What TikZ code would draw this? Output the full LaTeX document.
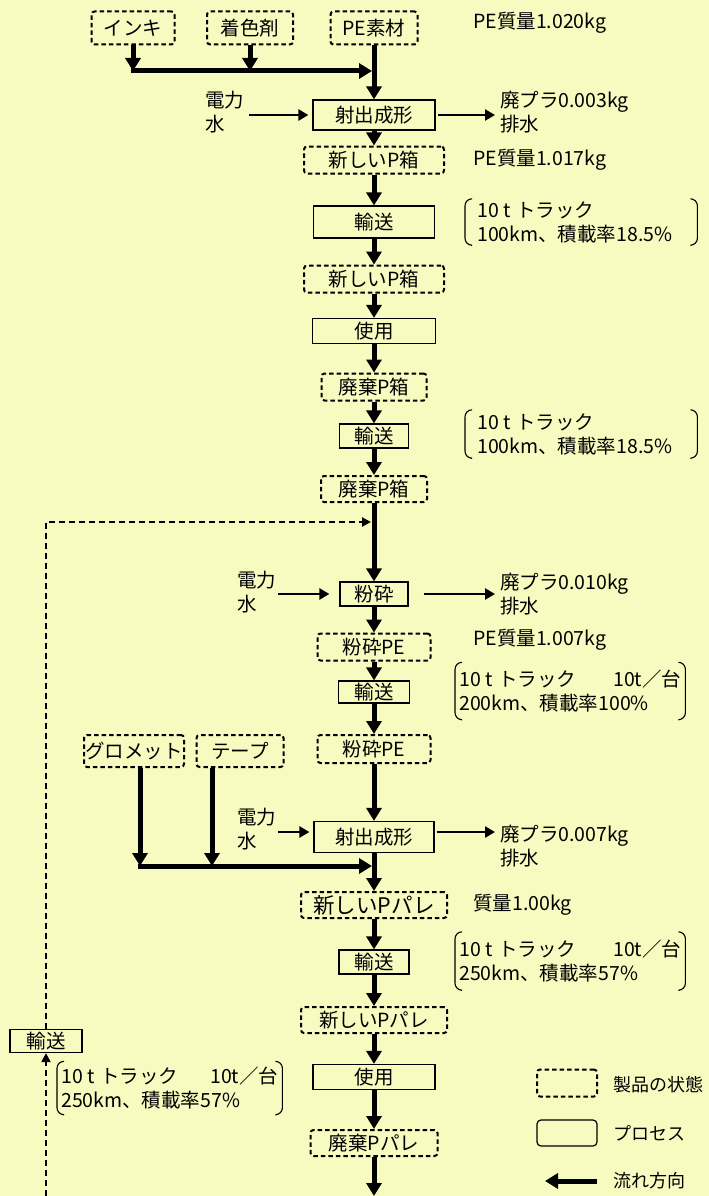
\documentclass[tikz,border=0pt]{standalone}
\usepackage{fontspec}
\setmainfont{Noto Sans CJK JP}
\usetikzlibrary{positioning, arrows.meta, calc}
\definecolor{bgyellow}{RGB}{247,251,192}
\newcommand{\jfont}{\fontsize{19.5}{24}\selectfont}
\newcommand{\bigjfont}{\fontsize{21.5}{24}\selectfont}
\newcommand{\legfont}{\fontsize{18}{24}\selectfont}
\newcommand{\truck}{10\kern5pt t\kern5pt トラック}
\tikzset{
  st/.style    = {draw, dash pattern=on 4.5pt off 3pt, line width=2pt,
                  rounded corners=3pt, inner sep=1pt, font=\jfont},
  pr/.style    = {draw, line width=1.2pt, inner sep=1pt, font=\jfont},
  txt/.style   = {align=left, anchor=west, inner sep=0pt, font=\jfont},
  note/.style  = {align=left, anchor=west, inner ysep=2pt, font=\jfont},
  flow/.style  = {-{Triangle[width=15pt,length=13pt]}, line width=5pt},
  thin/.style  = {-{Triangle[width=11pt,length=10pt]}, line width=2.5pt},
  fback/.style = {-{Triangle[width=9pt,length=9pt]}, line width=2pt,
                  dash pattern=on 6pt off 4pt},
  brk/.style   = {line width=1.1pt, rounded corners=7pt},
}
% brackets round a note
\newcommand{\brackets}[1]{%
  \draw[brk] ([xshift=6pt]#1.north west) -- (#1.north west)
    -- (#1.south west) -- ([xshift=6pt]#1.south west);
  \draw[brk] ([xshift=-6pt]#1.north east) -- (#1.north east)
    -- (#1.south east) -- ([xshift=-6pt]#1.south east);}

\begin{document}
\begin{tikzpicture}[x=1pt, y=-1pt]
  \fill[bgyellow] (0,0) rectangle (709,1196);
  \useasboundingbox (0,0) rectangle (709,1196);

  % raw materials
  \node[st, minimum width=83pt, minimum height=33pt] (ink) at (133,28) {インキ};
  \node[st, minimum width=86pt, minimum height=33pt] (col) at (250,28) {着色剤};
  \node[st, minimum width=87pt, minimum height=33pt] (pe)  at (374,28) {PE素材};
  \node[txt] (mass0) at (473,23) {PE質量1.020kg};
  \coordinate (m1) at (372,71);
  \draw[flow] (ink.south) -- (ink.south |- m1);
  \draw[flow] (col.south) -- (col.south |- m1);
  \draw[flow] ([xshift=-2.5pt]ink.south |- m1) -- (m1);

  % molding of the box
  \node[pr, minimum width=122pt, minimum height=30pt] (inj1) at (374,115) {射出成形};
  \draw[flow] (pe.south) -- (inj1.north);
  \node[txt] (pw1) at (205,112) {電力\\水};
  \node[txt] (waste1) at (500,112) {廃プラ0.003kg\\排水};
  \draw[thin] ([xshift=5pt]pw1.east |- inj1) -- ([xshift=-4pt]inj1.west);
  \draw[thin] ([xshift=2pt]inj1.east) -- ([xshift=-5pt]waste1.west |- inj1);

  \node[st, minimum width=140pt, minimum height=27pt] (nbox1) at (374,160) {新しいP箱};
  \node[txt] (mass1) at (473,160) {PE質量1.017kg};
  \draw[flow] (inj1.south) -- (nbox1.north);

  \node[pr, minimum width=121pt, minimum height=32pt] (tr1) at (374,222) {輸送};
  \node[note, text width=208pt, inner xsep=12pt, minimum height=46pt] (note1) at (465,222)
    {\truck\\100km、積載率18.5\%};
  \brackets{note1}
  \draw[flow] (nbox1.south) -- (tr1.north);

  \node[st, minimum width=140pt, minimum height=27pt] (nbox2) at (374,279) {新しいP箱};
  \draw[flow] (tr1.south) -- (nbox2.north);
  \node[pr, minimum width=123pt, minimum height=25pt] (use1) at (374,331) {使用};
  \draw[flow] (nbox2.south) -- (use1.north);
  \node[st, minimum width=105pt, minimum height=27pt] (wbox1) at (374,387) {廃棄P箱};
  \draw[flow] (use1.south) -- (wbox1.north);
  \node[pr, minimum width=69pt, minimum height=24pt] (tr2) at (374,436) {輸送};
  \draw[flow] (wbox1.south) -- (tr2.north);
  \node[note, text width=208pt, inner xsep=12pt, minimum height=48pt] (note2) at (465,434)
    {\truck\\100km、積載率18.5\%};
  \brackets{note2}
  \node[st, minimum width=106pt, minimum height=26pt] (wbox2) at (374,489) {廃棄P箱};
  \draw[flow] (tr2.south) -- (wbox2.north);

  % crushing
  \node[pr, minimum width=68pt, minimum height=24pt] (crush) at (374,594) {粉砕};
  \draw[flow] (wbox2.south) -- (crush.north);
  \node[txt] (pw2) at (237,592) {電力\\水};
  \node[txt] (waste2) at (500,594) {廃プラ0.010kg\\排水};
  \draw[thin] ([xshift=2pt]pw2.east |- crush) -- ([xshift=-10pt]crush.west);
  \draw[thin] ([xshift=15pt]crush.east) -- ([xshift=-5pt]waste2.west |- crush);

  \node[st, minimum width=113pt, minimum height=27pt] (cpe1) at (374,647) {粉砕PE};
  \node[txt] (mass2) at (473,640) {PE質量1.007kg};
  \draw[flow] (crush.south) -- (cpe1.north);
  \node[pr, minimum width=71pt, minimum height=22pt] (tr3) at (374,692) {輸送};
  \draw[flow] (cpe1.south) -- (tr3.north);
  \node[note, text width=222pt, inner xsep=4pt, minimum height=57pt] (note3) at (455,691)
    {\truck\hfill10t／台\\200km、積載率100\%};
  \brackets{note3}
  \node[st, minimum width=113pt, minimum height=28pt] (cpe2) at (374,749) {粉砕PE};
  \draw[flow] (tr3.south) -- (cpe2.north);

  % molding of the pallet
  \node[st, minimum width=100pt, minimum height=32pt] (grom) at (134,751) {グロメット};
  \node[st, minimum width=87pt, minimum height=32pt] (tape) at (240,751) {テープ};
  \node[pr, minimum width=120pt, minimum height=31pt] (inj2) at (374,837) {射出成形};
  \draw[flow] (cpe2.south) -- (inj2.north);
  \coordinate (m2) at (372,866);
  \draw[flow] ([xshift=6pt]grom.south) -- ([xshift=6pt]grom.south |- m2);
  \draw[flow] ([xshift=-28pt]tape.south) -- ([xshift=-28pt]tape.south |- m2);
  \draw[flow] ([xshift=3.5pt]grom.south |- m2) -- (m2);
  \node[txt] (pw3) at (237,829) {電力\\水};
  \node[txt] (waste3) at (500,846) {廃プラ0.007kg\\排水};
  \draw[thin] ([xshift=2pt]pw3.east |- inj2) ++(0,-5) -- ([xshift=-4pt,yshift=5pt]inj2.west);
  \draw[thin] ([xshift=2pt,yshift=5pt]inj2.east) -- ([xshift=-5pt,yshift=5pt]waste3.west |- inj2);

  \node[st, font=\bigjfont, minimum width=146pt, minimum height=26pt] (npal1) at (374,905) {新しいPパレ};
  \node[txt] (mass3) at (473,905) {質量1.00kg};
  \draw[flow] (inj2.south) -- (npal1.north);
  \node[pr, minimum width=70pt, minimum height=24pt] (tr4) at (374,962) {輸送};
  \draw[flow] (npal1.south) -- (tr4.north);
  \node[note, text width=222pt, inner xsep=4pt, minimum height=58pt] (note4) at (455,961)
    {\truck\hfill10t／台\\250km、積載率57\%};
  \brackets{note4}
  \node[st, minimum width=146pt, minimum height=26pt] (npal2) at (374,1020) {新しいPパレ};
  \draw[flow] (tr4.south) -- (npal2.north);
  \node[pr, minimum width=122pt, minimum height=25pt] (use2) at (374,1077) {使用};
  \draw[flow] (npal2.south) -- (use2.north);
  \node[st, minimum width=127pt, minimum height=26pt] (wpal) at (374,1143) {廃棄Pパレ};
  \draw[flow] (use2.south) -- (wpal.north);
  \coordinate (endp) at (374,1196);
  \draw[flow] (wpal.south) -- (endp);

  % return transport
  \node[pr, minimum width=72pt, minimum height=23pt] (trL) at (46,1041) {輸送};
  \node[note, text width=217pt, inner xsep=4pt, minimum height=53pt] (note5) at (57,1088)
    {\truck\hfill10t／台\\250km、積載率57\%};
  \brackets{note5}
  \coordinate (fb0) at (46,1196);
  \coordinate (fb1) at (371,522);
  \draw[fback] (fb0) -- (trL.south);
  \draw[fback] (trL.north) |- (fb1);

  % legend
  \node[st, minimum width=60pt, minimum height=27pt] (legS) at (567,1083) {};
  \node[pr, rounded corners=4pt, minimum width=60pt, minimum height=26pt] (legP) at (567,1133) {};
  \coordinate (la0) at (597,1181);
  \coordinate (la1) at (545,1181);
  \draw[flow] (la0) -- (la1);
  \node[txt, font=\legfont] (legSt) at (613,1085) {製品の状態};
  \node[txt, font=\legfont] (legPt) at (613,1133) {プロセス};
  \node[txt, font=\legfont] (legAt) at (613,1181) {流れ方向};
\end{tikzpicture}
\end{document}
